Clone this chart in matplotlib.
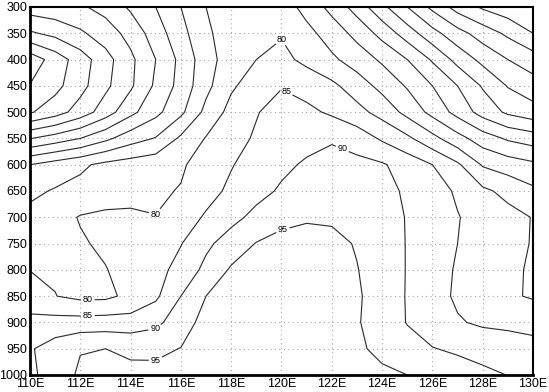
import matplotlib
matplotlib.use('Agg')
import matplotlib.pyplot as plt
import numpy as np

plt.rcParams['font.family'] = ['Liberation Sans', 'DejaVu Sans']

# grid: longitude (deg E) x pressure level (hPa)
LONS = [110, 111, 112, 113, 114, 115, 116, 117, 118, 119, 120,
        121, 122, 123, 124, 125, 126, 127, 128, 129, 130]
LEVELS = [300, 350, 400, 450, 500, 550, 600, 650, 700, 750, 800, 850, 900, 950, 1000]

RH = [
    [52.5, 53.3, 54.3, 56.7, 60.8, 65.0, 70.0, 75.0, 77.5, 78.5, 77.7, 73.2, 68.5, 62.9, 56.3, 50.0, 43.8, 38.0, 34.3, 32.0, 30.0],
    [44.3, 46.4, 49.2, 52.5, 56.7, 62.5, 68.3, 74.1, 77.5, 79.2, 79.6, 76.5, 72.7, 68.5, 63.3, 57.5, 51.7, 46.8, 42.7, 39.0, 35.0],
    [32.0, 37.2, 42.5, 48.1, 53.9, 60.0, 66.3, 72.9, 77.6, 80.0, 81.3, 78.8, 75.9, 72.7, 69.2, 65.0, 59.4, 53.3, 48.6, 45.0, 42.4],
    [35.2, 38.5, 43.3, 48.9, 54.2, 60.9, 66.7, 73.6, 79.3, 82.3, 84.7, 83.0, 81.1, 77.5, 73.5, 69.5, 65.0, 60.0, 54.5, 49.7, 47.1],
    [39.5, 42.7, 47.2, 52.5, 58.6, 63.6, 68.9, 76.4, 81.6, 84.7, 87.0, 86.2, 84.2, 81.6, 78.2, 73.5, 68.5, 63.3, 58.0, 54.1, 52.0],
    [54.8, 57.3, 60.0, 63.8, 67.8, 70.3, 75.9, 80.3, 83.2, 85.6, 87.3, 88.5, 89.6, 87.8, 84.3, 81.0, 76.5, 71.8, 67.5, 64.3, 62.6],
    [70.0, 72.2, 74.1, 76.2, 77.3, 78.2, 79.3, 82.4, 84.7, 87.1, 89.0, 90.6, 91.3, 91.3, 90.5, 88.0, 85.0, 80.8, 74.5, 72.6, 71.0],
    [74.0, 75.4, 76.5, 77.5, 78.3, 79.2, 80.3, 83.2, 86.0, 88.5, 90.6, 91.8, 92.5, 92.5, 91.5, 89.3, 86.9, 84.4, 81.0, 78.6, 76.0],
    [76.3, 78.2, 80.3, 81.0, 80.9, 80.1, 82.5, 85.6, 88.6, 91.3, 93.6, 94.4, 94.2, 93.2, 91.6, 89.8, 87.5, 85.2, 83.4, 81.6, 79.8],
    [77.8, 78.6, 79.5, 80.8, 82.0, 83.3, 84.8, 89.0, 92.2, 95.2, 96.5, 97.0, 96.5, 94.6, 92.2, 89.8, 87.4, 85.0, 83.4, 81.6, 79.7],
    [79.9, 79.5, 79.3, 79.8, 81.8, 83.3, 86.7, 91.3, 95.6, 97.0, 97.8, 98.0, 97.5, 95.2, 92.3, 89.8, 87.1, 84.5, 82.5, 81.0, 79.4],
    [82.5, 80.1, 78.8, 78.9, 81.2, 84.1, 90.0, 95.0, 97.2, 98.0, 98.3, 98.3, 97.6, 95.6, 92.8, 89.7, 86.8, 84.3, 82.5, 80.7, 79.5],
    [86.2, 86.8, 87.0, 87.3, 87.0, 88.7, 93.0, 96.5, 97.8, 98.3, 98.5, 98.5, 97.6, 95.4, 92.7, 89.8, 87.3, 85.4, 84.3, 84.0, 83.5],
    [89.5, 92.3, 94.8, 95.0, 94.4, 94.2, 95.1, 97.0, 98.0, 98.5, 98.6, 98.5, 97.6, 95.8, 93.8, 91.7, 90.2, 89.2, 88.0, 87.2, 86.5],
    [88.7, 92.9, 95.6, 95.8, 95.8, 96.0, 97.0, 97.8, 98.2, 98.4, 98.4, 98.2, 97.6, 96.8, 95.9, 95.0, 93.7, 92.4, 91.2, 89.9, 88.0],
]

PLAIN = [35, 40, 45, 50, 55, 60, 65, 70, 75]
LABELLED = [80, 85, 90, 95]
# where the line labels sit (lon, hPa)
LABEL_SPOTS = [(120.0, 357), (115.0, 700), (112.3, 866),
               (120.2, 460), (112.3, 891),
               (122.5, 560), (115.0, 918),
               (120.0, 715), (115.0, 973)]

X_TICKS = [110, 112, 114, 116, 118, 120, 122, 124, 126, 128, 130]
Y_TICKS = [300, 350, 400, 450, 500, 550, 600, 650, 700, 750, 800, 850, 900, 950, 1000]


def main():
    fig = plt.figure(figsize=(5.49, 3.92), dpi=100)
    ax = fig.add_axes([0.0546, 0.0434, 0.9163, 0.9388])

    lon, lev = np.meshgrid(LONS, LEVELS)
    rh = np.array(RH)
    ax.contour(lon, lev, rh, levels=PLAIN, colors='#2a2a2a', linewidths=0.8)
    cs = ax.contour(lon, lev, rh, levels=LABELLED, colors='#2a2a2a', linewidths=0.8)
    labels = ax.clabel(cs, manual=LABEL_SPOTS, fmt='%d', fontsize=6.5,
                       inline=True, inline_spacing=2, colors='black')
    # GrADS-style labels stay horizontal
    for t in labels:
        t.set_rotation(0)

    ax.set_xlim(110, 130)
    ax.set_ylim(1000, 300)
    ax.set_xticks(X_TICKS)
    ax.set_xticklabels([f'{t}E' for t in X_TICKS])
    ax.set_yticks(Y_TICKS)
    ax.set_yticklabels([str(t) for t in Y_TICKS])
    ax.tick_params(length=0, labelsize=9, pad=2)

    ax.grid(True, linestyle=(0, (1, 3)), color='#a8a8a8', linewidth=0.8)
    ax.set_axisbelow(True)
    for side, sp in ax.spines.items():
        sp.set_color('black')
        sp.set_linewidth(2.0 if side in ('left', 'bottom') else 1.5)

    fig.savefig('out.png', dpi=100)
    plt.close(fig)


if __name__ == '__main__':
    main()
